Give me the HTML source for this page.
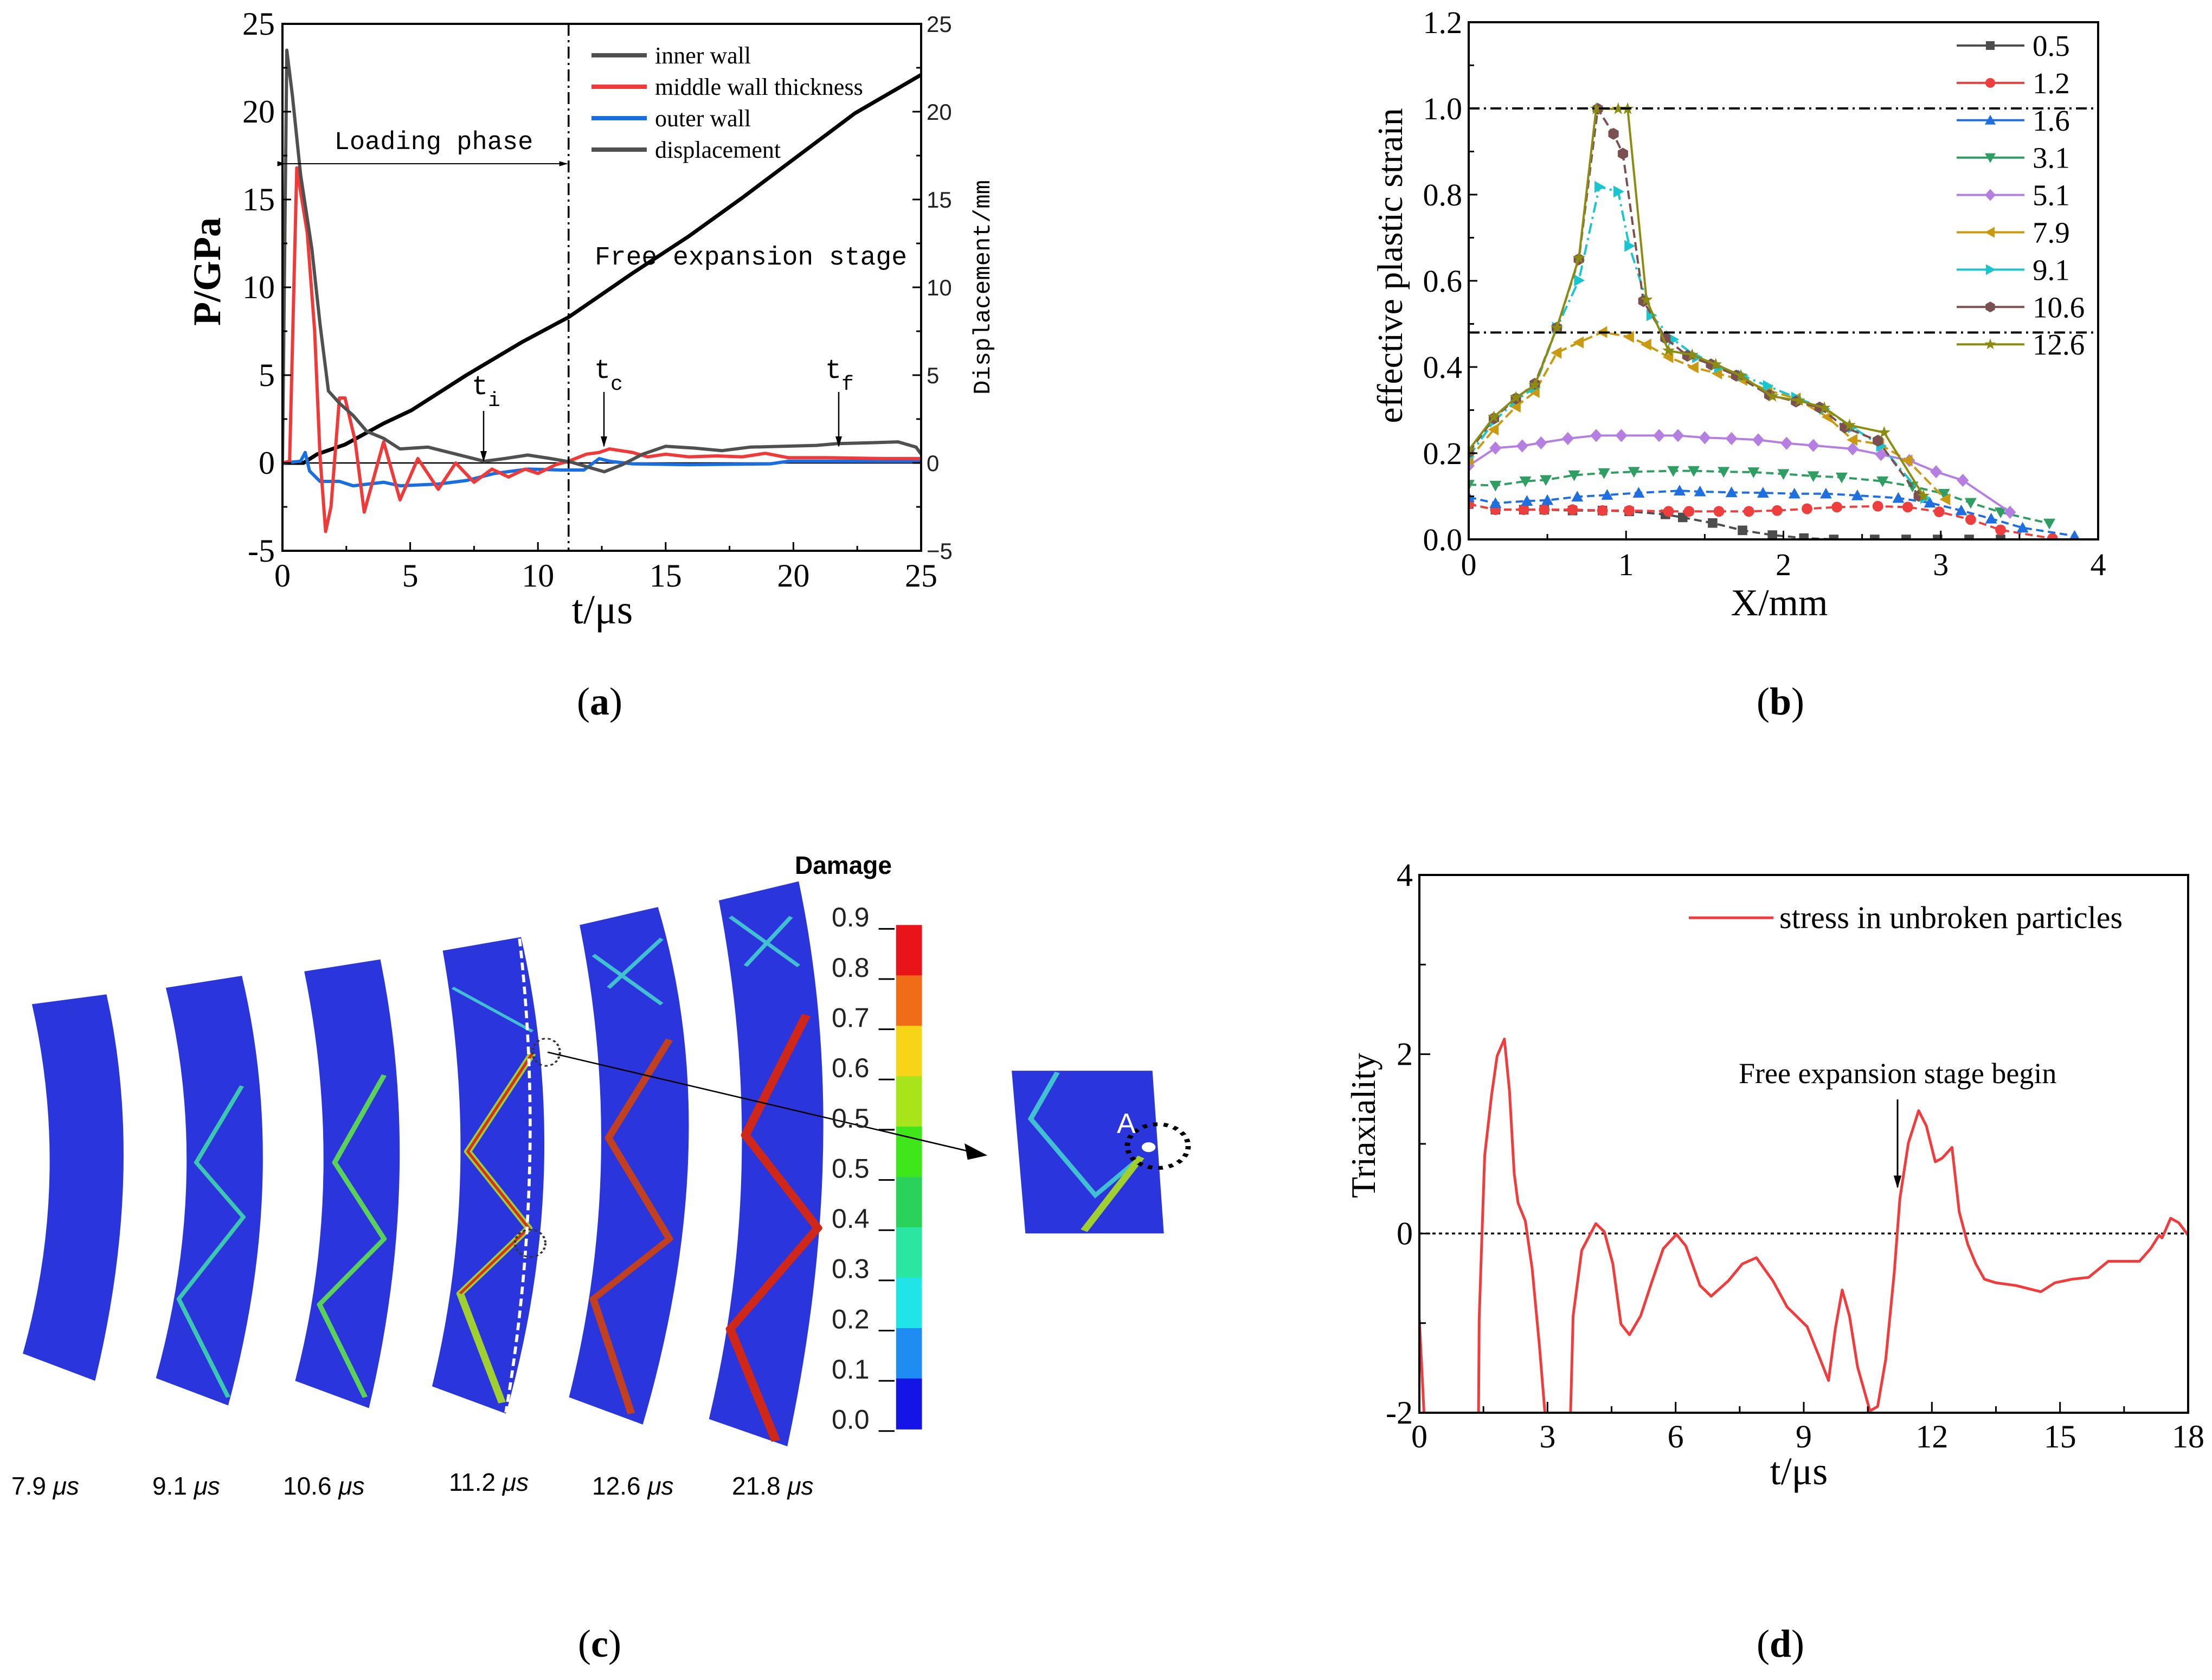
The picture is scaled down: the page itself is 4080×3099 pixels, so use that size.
<!DOCTYPE html>
<html><head><meta charset="utf-8">
<style>
html,body{margin:0;padding:0;background:#fff;}
svg{display:block;}
</style></head>
<body>
<svg id="root" xmlns="http://www.w3.org/2000/svg" width="4080" height="3099" viewBox="0 0 4080 3099" font-family="'Liberation Serif', serif">
<rect x="0" y="0" width="4080" height="3099" fill="#fff"/>
<defs>
<clipPath id="clipA"><rect x="521" y="44" width="1178" height="972"/></clipPath>
<clipPath id="clipB"><rect x="2709" y="41" width="1161" height="954"/></clipPath>
<clipPath id="clipD"><rect x="2618" y="1614" width="1418" height="992"/></clipPath>
<marker id="arrH" viewBox="0 0 10 10" refX="9" refY="5" markerWidth="8" markerHeight="8" orient="auto"><path d="M0,2 L10,5 L0,8 z" fill="#000"/></marker>
</defs>
<g id="panelA"></g>
<g id="panelB"></g>
<g id="panelC"></g>
<g id="panelD"></g>
<text x="1106" y="1318" font-size="72" text-anchor="middle">(<tspan font-weight="bold">a</tspan>)</text>
<text x="3284" y="1318" font-size="72" text-anchor="middle">(<tspan font-weight="bold">b</tspan>)</text>
<text x="1106" y="3056" font-size="72" text-anchor="middle">(<tspan font-weight="bold">c</tspan>)</text>
<text x="3284" y="3056" font-size="72" text-anchor="middle">(<tspan font-weight="bold">d</tspan>)</text>
</svg>
<script>
// ---------------- Panel A data ----------------
const aInnerT = [0,0.17,0.39,0.71,1.15,1.47,1.8,2.23,2.77,3.3,3.96,4.6,5.7,6.8,7.9,8.7,9.6,10.5,11.3,12.0,12.6,13.3,14.1,15.0,16.1,17.2,18.3,19.6,20.9,21.7,23.0,24.1,24.8,25];
const aInnerP = [0,23.5,20.9,16.4,12.2,7.9,4.1,3.4,2.7,1.8,1.4,0.8,0.9,0.5,0.1,0.25,0.45,0.25,0.05,-0.25,-0.5,-0.1,0.5,0.95,0.85,0.7,0.9,0.95,1.0,1.1,1.15,1.2,0.9,0.5];
const aMidT = [0,0.28,0.56,0.97,1.26,1.47,1.69,1.9,2.23,2.45,2.84,3.2,3.96,4.6,5.3,6.1,6.78,7.5,8.2,8.85,9.5,10.0,10.7,11.2,11.9,12.4,12.8,13.7,14.3,15,15.9,17,18,18.9,19.8,21.3,23.5,25];
const aMidP = [0,0.1,16.8,13.1,7.5,0.35,-3.9,-2.5,3.7,3.7,1.3,-2.8,1.2,-2.1,0.25,-1.5,0,-1.1,-0.35,-0.8,-0.35,-0.6,-0.1,0.1,0.5,0.6,0.8,0.6,0.35,0.5,0.35,0.4,0.35,0.55,0.3,0.3,0.25,0.25];
const aOutT = [0,0.71,0.89,1.06,1.47,2.23,2.77,3.96,4.6,6.1,7.2,8.3,9.6,10.9,11.8,12.4,12.8,13.7,15.9,19.1,19.8,25];
const aOutP = [0,0.1,0.6,-0.45,-1.05,-1.05,-1.3,-1.1,-1.3,-1.2,-1.0,-0.6,-0.35,-0.4,-0.4,0.25,0.1,-0.05,-0.1,-0.05,0.1,0.1];
const aDispT = [0,0.82,1.36,2.45,3.96,5.05,7.2,9.4,11.2,13.7,15.9,18.0,20.2,22.4,25];
const aDispV = [0,0,0.5,1.05,2.25,3.0,5.0,6.9,8.3,10.8,12.9,15.1,17.5,19.9,22.1];
const aXTicks = [0,5,10,15,20,25];
const aYTicks = [25,20,15,10,5,0,-5];
const aLegend = ["inner wall","middle wall thickness","outer wall","displacement"];

// ---------------- Panel B data ----------------
const bNames = ["0.5","1.2","1.6","3.1","5.1","7.9","9.1","10.6","12.6"];
const bX05 = [0,.17,.35,.48,.66,.85,1.02,1.25,1.36,1.55,1.74,1.93,2.13,2.32,2.58,2.78,2.98,3.18,3.38];
const bY05 = [.082,.069,.069,.069,.067,.067,.065,.058,.051,.038,.021,.01,.003,0,0,0,0,0,0];
const bX12 = [0,.17,.35,.48,.66,.85,1.02,1.27,1.4,1.59,1.78,1.96,2.15,2.34,2.6,2.79,2.99,3.19,3.38,3.71];
const bY12 = [.082,.069,.069,.069,.069,.067,.067,.065,.065,.065,.065,.067,.071,.075,.077,.075,.064,.046,.022,.002];
const bX16 = [0,.17,.37,.5,.69,.88,1.08,1.34,1.47,1.67,1.87,2.07,2.27,2.47,2.73,2.93,3.13,3.32,3.52,3.85];
const bY16 = [.098,.084,.089,.091,.099,.103,.108,.113,.111,.109,.108,.106,.106,.102,.096,.085,.067,.048,.027,.008];
const bX31 = [0,.17,.36,.49,.67,.86,1.05,1.3,1.43,1.62,1.81,2.0,2.19,2.37,2.63,2.82,3.02,3.19,3.38,3.69];
const bY31 = [.127,.125,.135,.138,.149,.154,.157,.159,.159,.157,.156,.152,.147,.144,.135,.123,.106,.085,.063,.037];
const bX51 = [0,.17,.34,.46,.63,.81,.97,1.21,1.33,1.5,1.67,1.84,2.02,2.19,2.44,2.62,2.8,2.97,3.14,3.44];
const bY51 = [.171,.212,.217,.224,.234,.241,.241,.241,.241,.236,.234,.231,.223,.218,.21,.197,.183,.157,.137,.063];
const bX79 = [0,.16,.3,.42,.56,.7,.85,1.02,1.13,1.27,1.43,1.58,1.74,1.9,2.08,2.28,2.44,2.61,2.79,3.03];
const bY79 = [.185,.255,.308,.342,.433,.457,.481,.47,.452,.423,.399,.385,.37,.346,.327,.284,.231,.221,.183,.093];
const bX91 = [0,.16,.3,.42,.56,.7,.83,.95,1.02,1.16,1.3,1.45,1.59,1.74,1.9,2.08,2.26,2.44,2.62,2.9];
const bY91 = [.192,.274,.322,.353,.491,.601,.818,.807,.681,.52,.464,.423,.399,.38,.356,.329,.303,.26,.217,.096];
const bX106 = [0,.16,.3,.42,.56,.7,.82,.92,.98,1.11,1.25,1.39,1.54,1.7,1.91,2.08,2.23,2.39,2.6,2.86];
const bY106 = [.202,.281,.327,.361,.491,.65,.999,.941,.895,.553,.467,.426,.406,.38,.335,.32,.306,.26,.229,.101];
const bX126 = [0,.16,.3,.42,.56,.7,.81,.95,1.01,1.13,1.27,1.42,1.57,1.73,1.93,2.1,2.26,2.42,2.64,2.89];
const bY126 = [.207,.284,.329,.358,.491,.653,.999,.999,.999,.556,.438,.428,.406,.38,.332,.322,.305,.265,.248,.101];
const bXTicks = [0,1,2,3,4];
const bYTicks = [0,0.2,0.4,0.6,0.8,1.0,1.2];
const bRefLines = [1.0,0.48];

// ---------------- Panel D data ----------------
const dT = [0,0.15,1.38,1.4,1.45,1.53,1.69,1.82,1.99,2.11,2.22,2.31,2.48,2.64,2.81,2.94,3.0,3.5,3.54,3.6,3.8,4.13,4.33,4.53,4.72,4.92,5.18,5.45,5.71,6.02,6.24,6.57,6.83,7.23,7.56,7.89,8.28,8.61,9.08,9.34,9.58,9.74,9.9,10.07,10.26,10.55,10.73,10.92,11.12,11.25,11.45,11.69,11.87,12.08,12.24,12.47,12.64,12.84,13.03,13.23,13.5,13.96,14.55,14.88,15.28,15.67,16.13,16.6,16.86,17.12,17.32,17.39,17.59,17.78,18];
const dV = [-0.96,-2.4,-2.4,-0.96,-0.24,0.87,1.54,1.98,2.17,1.59,0.67,0.34,0.14,-0.39,-1.25,-2.0,-2.4,-2.4,-2.0,-0.92,-0.19,0.11,0.02,-0.34,-1.01,-1.13,-0.92,-0.53,-0.17,-0.01,-0.14,-0.58,-0.7,-0.53,-0.34,-0.27,-0.53,-0.82,-1.04,-1.35,-1.64,-1.06,-0.63,-0.92,-1.49,-1.98,-1.93,-1.4,-0.43,0.39,1.01,1.37,1.2,0.8,0.84,0.96,0.24,-0.12,-0.34,-0.51,-0.55,-0.58,-0.65,-0.55,-0.51,-0.49,-0.31,-0.31,-0.31,-0.17,-0.02,-0.05,0.17,0.12,-0.02];
const dXTicks = [0,3,6,9,12,15,18];
const dYTicks = [4,2,0,-2];

const NS = "http://www.w3.org/2000/svg";
function mk(parent, tag, attrs, txt){
  const e = document.createElementNS(NS, tag);
  for (const k in attrs) e.setAttribute(k, attrs[k]);
  if (txt !== undefined) e.textContent = txt;
  parent.appendChild(e);
  return e;
}
function pts(xs, ys, fx, fy){ return xs.map((x,i)=>fx(x).toFixed(1)+","+fy(ys[i]).toFixed(1)).join(" "); }

// ================= PANEL A =================
(function(){
  const g = document.getElementById('panelA');
  const L=521,R=1699,T=44,B=1016;
  const ax = t => L + t*(R-L)/25;
  const ay = v => T + (25-v)*(B-T)/30;
  // zero line
  let e = mk(g,'line',{x1:L,y1:ay(0),x2:R,y2:ay(0),stroke:'#000','stroke-width':2.5});
   
  const cg = mk(g,'g',{'clip-path':'url(#clipA)'});
  const series = [[aDispT,aDispV,'#000',7,'displacement-line'],[aOutT,aOutP,'#1a6fe0',6,'outer-wall-line'],[aMidT,aMidP,'#f03a3a',6,'middle-wall-line'],[aInnerT,aInnerP,'#505050',6,'inner-wall-line']];
  series.forEach(s=>{
    const p = mk(cg,'polyline',{points:pts(s[0],s[1],ax,ay),fill:'none',stroke:s[2],'stroke-width':s[3],'stroke-linejoin':'round'});
    
    
  });
  // vertical dash-dot line at 11.2
  e = mk(g,'line',{x1:ax(11.2),y1:T,x2:ax(11.2),y2:B,stroke:'#000','stroke-width':3.5,'stroke-dasharray':'22 8 4 8'});
   
  // axes box
  e = mk(g,'rect',{x:L,y:T,width:R-L,height:B-T,fill:'none',stroke:'#000','stroke-width':4});
   
  // x ticks
  for (let t=0;t<=25;t+=2.5){
    const len = (t%5===0)?16:9;
    e = mk(g,'line',{x1:ax(t),y1:B,x2:ax(t),y2:B-len,stroke:'#000','stroke-width':3});
     
  }
  aXTicks.forEach(t=>{
    e = mk(g,'text',{x:ax(t),y:B+66,'font-size':60,'text-anchor':'middle'},String(t));
     
  });
  for (let v=-5;v<=25;v+=2.5){
    const len = (v%5===0)?16:9;
    e = mk(g,'line',{x1:L,y1:ay(v),x2:L+len,y2:ay(v),stroke:'#000','stroke-width':3});
     
    e = mk(g,'line',{x1:R,y1:ay(v),x2:R-len,y2:ay(v),stroke:'#000','stroke-width':3});
     
  }
  aYTicks.forEach(v=>{
    e = mk(g,'text',{x:L-14,y:ay(v)+20,'font-size':60,'text-anchor':'end'},String(v));
     
    e = mk(g,'text',{x:R+10,y:ay(v)+15,'font-size':42,'font-family':"'Liberation Sans', sans-serif",fill:'#222'},v<0?'\u2212'+Math.abs(v):String(v));
     
  });
  e = mk(g,'text',{x:1111,y:1150,'font-size':76,'text-anchor':'middle'},'t/\u03bcs');
   
  e = mk(g,'text',{x:0,y:0,'font-size':72,'font-weight':'bold','text-anchor':'middle',transform:'translate(406,501) rotate(-90)'},'P/GPa');
   
  e = mk(g,'text',{x:0,y:0,'font-size':44,'font-family':"'Liberation Mono', monospace",'text-anchor':'middle',transform:'translate(1825,530) rotate(-90)'},'Displacement/mm');
   
  // legend
  const lc = ['#505050','#f03a3a','#1a6fe0','#505050'];
  aLegend.forEach((s,i)=>{
    const y = 102 + i*58;
    e = mk(g,'line',{x1:1091,y1:y,x2:1193,y2:y,stroke:lc[i],'stroke-width':8});
     
    e = mk(g,'text',{x:1208,y:y+15,'font-size':44},s);
     
  });
  // annotations
  e = mk(g,'text',{x:800,y:275,'font-size':47,'font-family':"'Liberation Mono', monospace",'text-anchor':'middle'},'Loading phase');
   
  e = mk(g,'line',{x1:526,y1:302,x2:1046,y2:302,stroke:'#000','stroke-width':2,'marker-end':'url(#arrH)','marker-start':'url(#arrH)'});
   
  e = mk(g,'text',{x:1385,y:488,'font-size':48,'font-family':"'Liberation Mono', monospace",'text-anchor':'middle'},'Free expansion stage');
   
  const ann = [['t','i',870,727,892,758,850],['t','c',1096,697,1114,723,823],['t','f',1522,697,1547,723,823]];
  ann.forEach(a=>{
    e = mk(g,'text',{x:a[2],y:a[3],'font-size':50,'font-family':"'Liberation Mono', monospace"});
     
    mk(e,'tspan',{},a[0]); mk(e,'tspan',{dy:22,'font-size':38},a[1]);
    e = mk(g,'line',{x1:a[4],y1:a[5],x2:a[4],y2:a[6],stroke:'#000','stroke-width':2.5,'marker-end':'url(#arrH)'});
     
  });
})();

// ================= PANEL B =================
(function(){
  const g = document.getElementById('panelB');
  const L=2709,R=3870,T=41,B=995;
  const bx = x => L + x*(R-L)/4;
  const by = y => B - y*(B-T)/1.2;
  let e;
  const cols = ['#4d4d4d','#ef3e3e','#1f6fe0','#2f9e62','#b47fe0','#c99a10','#19c6cf','#7a5050','#8c8c12'];
  const dashes = ['14 8','14 8','14 8','14 8','none','18 8','20 8 4 8','16 8','none'];
  const shapes = ['sq','ci','tu','td','di','tl','tr','hx','st'];
  const xs = [bX05,bX12,bX16,bX31,bX51,bX79,bX91,bX106,bX126];
  const ys = [bY05,bY12,bY16,bY31,bY51,bY79,bY91,bY106,bY126];
  function marker(par, shp, cx, cy, r, col){
    let d;
    if (shp==='sq') return mk(par,'rect',{x:cx-r*0.8,y:cy-r*0.8,width:r*1.6,height:r*1.6,fill:col});
    if (shp==='ci') return mk(par,'circle',{cx:cx,cy:cy,r:r*0.9,fill:col});
    if (shp==='tu') d=`M${cx},${cy-r} L${cx+r},${cy+r*0.8} L${cx-r},${cy+r*0.8}Z`;
    if (shp==='td') d=`M${cx},${cy+r} L${cx+r},${cy-r*0.8} L${cx-r},${cy-r*0.8}Z`;
    if (shp==='tl') d=`M${cx-r},${cy} L${cx+r*0.8},${cy-r} L${cx+r*0.8},${cy+r}Z`;
    if (shp==='tr') d=`M${cx+r},${cy} L${cx-r*0.8},${cy-r} L${cx-r*0.8},${cy+r}Z`;
    if (shp==='di') d=`M${cx},${cy-r*1.1} L${cx+r},${cy} L${cx},${cy+r*1.1} L${cx-r},${cy}Z`;
    if (shp==='hx'){ d=''; for(let k=0;k<6;k++){const a=Math.PI/3*k+Math.PI/6; d+=(k?'L':'M')+(cx+r*Math.cos(a)).toFixed(1)+','+(cy+r*Math.sin(a)).toFixed(1);} d+='Z'; }
    if (shp==='st'){ d=''; for(let k=0;k<10;k++){const a=-Math.PI/2+Math.PI/5*k; const rr=k%2?r*0.45:r*1.1; d+=(k?'L':'M')+(cx+rr*Math.cos(a)).toFixed(1)+','+(cy+rr*Math.sin(a)).toFixed(1);} d+='Z'; }
    return mk(par,'path',{d:d,fill:col});
  }
  const cg = mk(g,'g',{'clip-path':'url(#clipB)'});
  for (let i=0;i<9;i++){
    const sg = mk(cg,'g',{});
    
    
    const p = mk(sg,'polyline',{points:pts(xs[i],ys[i],bx,by),fill:'none',stroke:cols[i],'stroke-width':4,'stroke-dasharray':dashes[i]});
    
    
    xs[i].forEach((x,j)=>{
      const m = marker(sg,shapes[i],bx(x),by(ys[i][j]),11,cols[i]);
      
      
    });
  }
  bRefLines.forEach(v=>{
    e = mk(g,'line',{x1:L,y1:by(v),x2:R,y2:by(v),stroke:'#000','stroke-width':4,'stroke-dasharray':'20 8 4 8'});
     
  });
  e = mk(g,'rect',{x:L,y:T,width:R-L,height:B-T,fill:'none',stroke:'#000','stroke-width':4});
   
  for (let x=0;x<=4;x+=0.5){
    e = mk(g,'line',{x1:bx(x),y1:B,x2:bx(x),y2:B-(x%1===0?16:10),stroke:'#000','stroke-width':3});
     
  }
  for (let y=0;y<=1.2001;y+=0.1){
    const major = Math.abs(y*5-Math.round(y*5))<1e-6;
    e = mk(g,'line',{x1:L,y1:by(y),x2:L+(major?16:10),y2:by(y),stroke:'#000','stroke-width':3});
     
  }
  bXTicks.forEach(x=>{
    e = mk(g,'text',{x:bx(x),y:B+66,'font-size':58,'text-anchor':'middle'},String(x));
     
  });
  bYTicks.forEach(y=>{
    e = mk(g,'text',{x:L-12,y:by(y)+20,'font-size':58,'text-anchor':'end'},y.toFixed(1));
     
  });
  e = mk(g,'text',{x:3282,y:1135,'font-size':70,'text-anchor':'middle'},'X/mm');
   
  e = mk(g,'text',{x:0,y:0,'font-size':66,'text-anchor':'middle',transform:'translate(2586,490) rotate(-90)'},'effective plastic strain');
   
  bNames.forEach((n,i)=>{
    const y = 84 + i*68.9;
    const lg = mk(g,'g',{});
    
    
    mk(lg,'line',{x1:3609,y1:y,x2:3734,y2:y,stroke:cols[i],'stroke-width':4});
    marker(lg,shapes[i],3671,y,10,cols[i]);
    mk(lg,'text',{x:3749,y:y+19,'font-size':55},n);
  });
})();

// ================= PANEL C =================
(function(){
  const g = document.getElementById('panelC');
  const inner = mk(g,'svg',{x:0,y:1520,width:2200,height:1579,viewBox:'0 0 1568 1568',preserveAspectRatio:'none'});
   
  const strips = [
    [[42,330],[140,312],[162,650],[125,1020],[30,970],[65,650]],
    [[218,300],[318,278],[345,660],[300,1065],[205,1015],[245,650]],
    [[400,270],[500,248],[525,650],[485,1070],[388,1020],[425,650]],
    [[582,232],[685,207],[715,640],[665,1080],[568,1030],[605,640]],
    [[762,185],[865,152],[905,600],[845,1100],[748,1050],[790,620]],
    [[945,140],[1050,105],[1082,600],[1035,1140],[932,1090],[975,620]]
  ];
  strips.forEach((s,i)=>{
    const [a,b,c,d,e2,f] = s;
    const cr = [2*c[0]-(b[0]+d[0])/2, 2*c[1]-(b[1]+d[1])/2];
    const cl = [2*f[0]-(e2[0]+a[0])/2, 2*f[1]-(e2[1]+a[1])/2];
    const p = mk(inner,'path',{d:`M${a} L${b} Q${cr} ${d} L${e2} Q${cl} ${a}Z`,fill:'#2a35dc'});
    
    
  });
  const cracks = [
    [[[318,480],[258,620],[320,720],[235,870],[300,1050]],'#3cc8b0',6],
    [[[505,460],[440,620],[505,760],[420,880],[480,1050]],'#5ad25a',7],
    [[[700,420],[615,600],[695,740],[605,860],[660,1060]],'#a0d030',10],
    [[[700,420],[615,600],[695,740],[605,860]],'#d83020',4],
    [[[880,395],[800,575],[880,760],[780,870],[830,1080]],'#c04020',10],
    [[[1060,350],[980,570],[1075,740],[960,925],[1020,1130]],'#d02818',12],
    [[[595,300],[700,380]],'#40c0d0',5],[[[780,240],[870,330]],'#40c0d0',6],[[[960,170],[1050,260]],'#40c0d0',6],
    [[[800,300],[870,210]],'#40c0d0',6],[[[980,260],[1040,170]],'#40c0d0',6]
  ];
  cracks.forEach(c=>{
    const p = mk(inner,'polyline',{points:c[0].map(q=>q.join(',')).join(' '),fill:'none',stroke:c[1],'stroke-width':c[2],'stroke-linejoin':'round'});
    
    
  });
  let e = mk(inner,'path',{d:'M683,210 Q718,640 665,1078',fill:'none',stroke:'#fff','stroke-width':4,'stroke-dasharray':'14 8'});
   
  // colorbar
  const cbc = ['#e8141a','#f06c18','#f8d418','#a8e41a','#3ee61a','#2ad25a','#2ae6a0','#20e4e8','#1e8cf0','#1414e6'];
  cbc.forEach((c,i)=>{
    e = mk(inner,'rect',{x:1178,y:185+i*92.3,width:34,height:93.3,fill:c});
     
  });
  for (let i=0;i<11;i++){
    e = mk(inner,'line',{x1:1155,y1:192+i*92,x2:1176,y2:192+i*92,stroke:'#000','stroke-width':3});
     
  }
  // inset
  e = mk(inner,'path',{d:'M1330,452 L1515,452 L1530,750 L1348,750 Z',fill:'#2a35dc'});
   
  e = mk(inner,'polyline',{points:'1390,455 1355,540 1440,680 1500,610',fill:'none',stroke:'#40c0d0','stroke-width':7});
   
  e = mk(inner,'polyline',{points:'1500,610 1425,745',fill:'none',stroke:'#a0d030','stroke-width':10});
   
  e = mk(inner,'ellipse',{cx:1522,cy:590,rx:40,ry:40,fill:'none',stroke:'#000','stroke-width':7,'stroke-dasharray':'6 8'});
   
  e = mk(inner,'circle',{cx:1510,cy:592,r:9,fill:'#fff'});
   
  e = mk(inner,'ellipse',{cx:718,cy:418,rx:18,ry:25,fill:'none',stroke:'#333','stroke-width':3,'stroke-dasharray':'4 4'});
   
  e = mk(inner,'ellipse',{cx:697,cy:768,rx:20,ry:25,fill:'none',stroke:'#333','stroke-width':3,'stroke-dasharray':'4 4'});
   
  e = mk(inner,'line',{x1:720,y1:418,x2:1275,y2:600,stroke:'#000','stroke-width':2.5});
   
  e = mk(inner,'path',{d:'M1298,607 L1268,585 L1272,615 Z',fill:'#000'});
   
  // text (unstretched)
  e = mk(g,'text',{x:1466,y:1612,'font-size':46,'font-weight':'bold','font-family':"'Liberation Sans', sans-serif"},'Damage');
   
  const cbl = ['0.9','0.8','0.7','0.6','0.5','0.5','0.4','0.3','0.2','0.1','0.0'];
  cbl.forEach((s,i)=>{
    e = mk(g,'text',{x:1534,y:1520+(170+i*92)*1.007+18,'font-size':50,'font-family':"'Liberation Sans', sans-serif",fill:'#222'},s);
     
  });
  e = mk(g,'text',{x:2060,y:2090,'font-size':52,fill:'#fff','font-family':"'Liberation Sans', sans-serif"},'A');
   
  const tl = [['7.9',21,2757],['9.1',281,2757],['10.6',522,2757],['11.2',828,2750],['12.6',1092,2757],['21.8',1350,2757]];
  tl.forEach(t=>{
    e = mk(g,'text',{x:t[1],y:t[2],'font-size':46,'font-family':"'Liberation Sans', sans-serif"});
     
    mk(e,'tspan',{},t[0]+' '); mk(e,'tspan',{'font-style':'italic'},'\u03bcs');
  });
})();

// ================= PANEL D =================
(function(){
  const g = document.getElementById('panelD');
  const L=2618,R=4036,T=1614,B=2606;
  const dx = t => L + t*(R-L)/18;
  const dy = v => T + (4-v)*(B-T)/6;
  let e = mk(g,'line',{x1:L,y1:dy(0),x2:R,y2:dy(0),stroke:'#000','stroke-width':3.5,'stroke-dasharray':'6 6'});
   
  const cg = mk(g,'g',{'clip-path':'url(#clipD)'});
  e = mk(cg,'polyline',{points:pts(dT,dV,dx,dy),fill:'none',stroke:'#f03c3c','stroke-width':5,'stroke-linejoin':'round'});
   
  e = mk(g,'rect',{x:L,y:T,width:R-L,height:B-T,fill:'none',stroke:'#000','stroke-width':4});
   
  for (let t=0;t<=18;t+=1.5){
    e = mk(g,'line',{x1:dx(t),y1:B,x2:dx(t),y2:B-(t%3===0?20:12),stroke:'#000','stroke-width':3});
     
  }
  for (let v=-2;v<=4;v+=1){
    e = mk(g,'line',{x1:L,y1:dy(v),x2:L+(v%2===0?20:12),y2:dy(v),stroke:'#000','stroke-width':3});
     
  }
  dXTicks.forEach(t=>{
    e = mk(g,'text',{x:dx(t),y:B+64,'font-size':60,'text-anchor':'middle'},String(t));
     
  });
  dYTicks.forEach(v=>{
    e = mk(g,'text',{x:L-12,y:dy(v)+20,'font-size':60,'text-anchor':'end'},String(v));
     
  });
  e = mk(g,'text',{x:3318,y:2738,'font-size':72,'text-anchor':'middle'},'t/\u03bcs');
   
  e = mk(g,'text',{x:0,y:0,'font-size':64,'text-anchor':'middle',transform:'translate(2536,2076) rotate(-90)'},'Triaxiality');
   
  e = mk(g,'line',{x1:3115,y1:1693,x2:3271,y2:1693,stroke:'#f03c3c','stroke-width':5});
   
  e = mk(g,'text',{x:3282,y:1712,'font-size':58},'stress in unbroken particles');
   
  e = mk(g,'text',{x:3207,y:1998,'font-size':54},'Free expansion stage begin');
   
  e = mk(g,'line',{x1:3500,y1:2028,x2:3500,y2:2190,stroke:'#000','stroke-width':3,'marker-end':'url(#arrH)'});
   
})();
</script>
</body></html>
